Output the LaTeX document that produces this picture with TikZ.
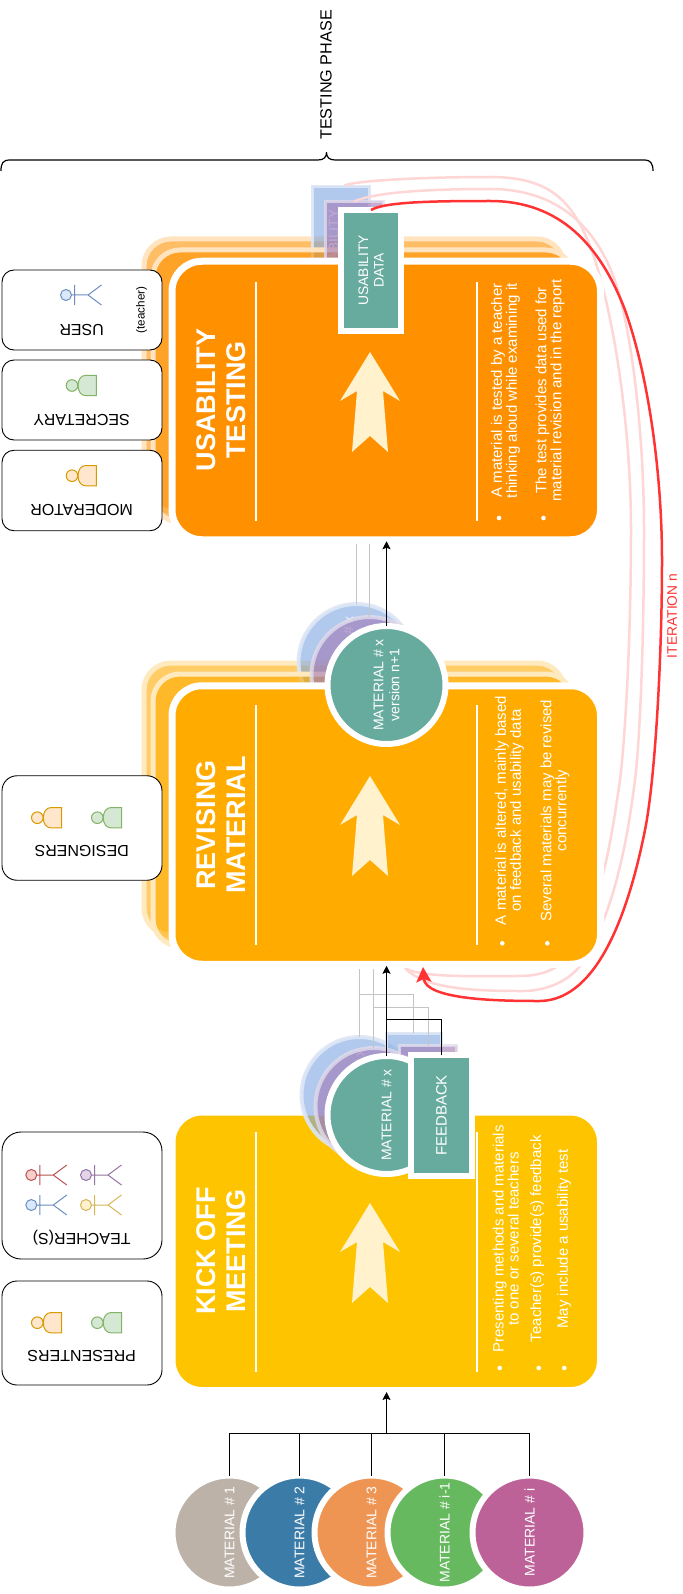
\documentclass[tikz,border=0pt]{standalone}
\usepackage{fontspec}
\setmainfont{Liberation Sans}
\usetikzlibrary{arrows.meta,calc}
\definecolor{cKick}{HTML}{FFC400}
\definecolor{cRev}{HTML}{FFAB00}
\definecolor{cUse}{HTML}{FF9100}
\definecolor{cTeal}{HTML}{67AB9F}
\definecolor{cCream}{HTML}{FFF2CC}
\definecolor{cRed}{HTML}{FF3333}
\definecolor{cPink}{HTML}{FFD6D6}
\definecolor{cGBlue}{HTML}{7EA6E0}
\definecolor{cGPurp}{HTML}{A178B7}
\definecolor{cGBlueL}{HTML}{DDE6F6}
\definecolor{cGPurpL}{HTML}{E1DCEB}
\definecolor{cGray}{HTML}{C4C4C4}
\definecolor{oF}{HTML}{FFE6CC}\definecolor{oD}{HTML}{D79B00}
\definecolor{gF}{HTML}{D5E8D4}\definecolor{gD}{HTML}{82B366}
\definecolor{bF}{HTML}{DAE8FC}\definecolor{bD}{HTML}{6C8EBF}
\definecolor{rF}{HTML}{F8CECC}\definecolor{rD}{HTML}{B85450}
\definecolor{pF}{HTML}{E1D5E7}\definecolor{pD}{HTML}{9673A6}
\definecolor{yF}{HTML}{FFF2CC}\definecolor{yD}{HTML}{D6B656}
\definecolor{m1}{HTML}{BDB2A8}\definecolor{m2}{HTML}{3A7BA8}
\definecolor{m3}{HTML}{EF9554}\definecolor{m4}{HTML}{66B95F}
\definecolor{m5}{HTML}{BD6299}
\tikzset{
  mainbox/.style={rectangle,rounded corners=30pt,draw=white,line width=7pt,fill=#1,
    minimum width=428.5pt,minimum height=278.5pt,inner sep=0pt,outer sep=0pt},
  stackbox/.style={rectangle,rounded corners=27pt,fill=#1,fill opacity=.6,draw=#1!25!white,
    line width=5pt,minimum width=420pt,minimum height=272pt,inner sep=0pt,outer sep=0pt},
  sidebox/.style={rectangle,draw=black,fill=white,line width=.9pt,inner sep=0pt,outer sep=0pt,minimum width=160pt},
  sidetext/.style={rotate=180,font=\fontsize{16}{16}\selectfont,inner sep=0pt},
  tealcirc/.style={circle,fill=cTeal,draw=white,line width=6pt,minimum size=118pt,inner sep=0pt,outer sep=0pt,
    rotate=90,align=center,text=white,font=\fontsize{14}{16}\selectfont},
  tealrect/.style={rectangle,fill=cTeal,draw=white,line width=6pt,inner sep=0pt,outer sep=0pt,
    rotate=90,align=center,text=white,font=\fontsize{13.8}{15.5}\selectfont},
  ghostblue/.style={fill=cGBlue,fill opacity=.6,draw=cGBlueL,draw opacity=.9,text=white,text opacity=.8},
  ghostpurp/.style={fill=cGPurp,fill opacity=.6,draw=cGPurpL,draw opacity=.8,text=white,text opacity=.55},
  gcirc/.style={circle,line width=4pt,minimum size=116pt,inner sep=0pt,outer sep=0pt,
    rotate=90,align=center,font=\fontsize{14}{16}\selectfont},
  grect/.style={rectangle,line width=3pt,inner sep=0pt,outer sep=0pt,
    rotate=90,align=center,font=\fontsize{13.8}{15.5}\selectfont},
  matcirc/.style={circle,fill=#1,draw=white,line width=6pt,minimum size=114pt,inner sep=0pt,outer sep=0pt,
    rotate=90,text=white,font=\fontsize{14}{16}\selectfont},
  titletext/.style={rotate=90,align=center,text=white,inner sep=0pt,font=\fontsize{27}{30}\selectfont\bfseries},
  itemtext/.style={rotate=90,align=center,text=white,inner sep=0pt,font=\fontsize{15}{15}\selectfont},
  dotb/.style={circle,fill=white,minimum size=4.6pt,inner sep=0pt},
  rule/.style={draw=white,line width=1.6pt},
  flow/.style={draw=black,line width=1.1pt},
  flowtip/.style={flow,-{Stealth[length=8pt,width=8pt,inset=1.5pt]},shorten >=1.5pt},
  ghostline/.style={draw=cGray,line width=1pt},
  pinkline/.style={draw=cPink,line width=2.5pt},
  redline/.style={draw=cRed,line width=2.5pt,-{Stealth[length=15pt,width=15pt,inset=3pt]}},
  cream/.style={fill=cCream},
}
\newcommand{\blobman}[4]{%
 \begin{scope}[shift={(#1,#2)},line width=1pt]
  \draw[draw=#4,fill=#3] (24.4,-10.2) -- (14,-10.2) .. controls (9,-10.2) and (6,-6) .. (6,0) .. controls (6,6) and (9,10.2) .. (14,10.2) -- (24.4,10.2) -- cycle;
  \draw[draw=#4,fill=#3] (0,0) circle[radius=5.8];
 \end{scope}}
\newcommand{\stickman}[4]{%
 \begin{scope}[shift={(#1,#2)},line width=1pt]
  \draw[draw=#4] (5.5,0) -- (22,0) -- (35.5,-10) (22,0) -- (35.5,10) (8.5,-10) -- (8.5,10);
  \draw[draw=#4,fill=#3] (0,0) circle[radius=5.5];
 \end{scope}}
\newcommand{\bigarrow}[1]{%
 \fill[cream,shift={(370,#1)}] (0,0) -- (30,49) -- (13,39) -- (18,100) -- (0,84) -- (-18,100) -- (-13,39) -- (-30,49) -- cycle;}
\begin{document}
\begin{tikzpicture}[x=1pt,y=-1pt]
\useasboundingbox (0,0) rectangle (682,1594);
\fill[white] (0,0) rectangle (682,1594);

% brace
\draw[line width=1.2pt,line join=round] (1,171) .. controls (1,163) and (3,160) .. (10,160) -- (318,160) .. controls (324,160) and (326.5,157) .. (326.5,152.5) .. controls (326.5,157) and (329,160) .. (335,160) -- (645,160) .. controls (650,160) and (653,163) .. (653,171);
\node[rotate=90,inner sep=0pt,font=\fontsize{16.2}{16}\selectfont] (phase) at (326,75) {TESTING PHASE};

% usability layers
\node[stackbox=cUse] (su1) at (354,375) {};
\node[grect,ghostblue,minimum width=117pt,minimum height=57pt] (gu1) at (341.2,245) {USABILITY\\DATA};
\node[stackbox=cUse] (su2) at (363,386) {};
\node[grect,ghostpurp,minimum width=117pt,minimum height=58pt] (gu2) at (354.2,260) {USABILITY\\DATA};

% revising layers
\node[stackbox=cRev] (sr1) at (354,799) {};
\node[gcirc,ghostblue] (gr1) at (356.5,662) {MATERIAL \# x\\version n+1};
\node[stackbox=cRev] (sr2) at (363,810) {};
\node[gcirc,ghostpurp] (gr2) at (369.5,675) {MATERIAL \# x\\version n+1};

% faded iteration lines
\coordinate (pinkend) at (405,968);
\draw[pinkline,shorten <=3.5pt] (gu1.east) .. controls (360,180) and (430,177) .. (490,177) .. controls (550,177) and (575,200) .. (595,260) .. controls (620,340) and (631,450) .. (631,530) .. controls (631,640) and (625,740) .. (620,780) .. controls (612,835) and (600,920) .. (565,960) .. controls (550,975) and (530,976) .. (517,976) .. controls (480,976) and (420,978) .. (pinkend);
\draw[pinkline] (gu2.east) .. controls (375,192) and (430,189) .. (490,189) .. controls (560,189) and (600,230) .. (618,290) .. controls (635,350) and (644,450) .. (644,530) .. controls (644,640) and (640,740) .. (635,780) .. controls (628,835) and (615,915) .. (580,966) .. controls (565,985) and (540,991) .. (523,991) .. controls (480,991) and (425,990) .. (pinkend);

% main boxes
\node[mainbox=cUse] (use) at (386.25,400.5) {};
\node[mainbox=cRev] (rev) at (386.25,825) {};
\node[mainbox=cKick] (kick) at (386.25,1251.25) {};

% usability content
\draw[rule] (256,282) -- (256,521);
\draw[rule] (477,282) -- (477,521);
\node[titletext] (tu) at (221,400) {USABILITY\\TESTING};
\bigarrow{352}
\node[itemtext] (iu1) at (505.5,390.5) {A material is tested by a teacher\\thinking aloud while examining it};
\node[itemtext] (iu2) at (550,390.5) {The test provides data used for\\material revision and in the report};
\node[dotb] (du1) at (499,518) {};
\node[dotb] (du2) at (543.5,518) {};
\node[tealrect,minimum width=120.5pt,minimum height=60pt] (ud) at (371,270.25) {USABILITY\\DATA};

% revising content
\draw[rule] (256,705) -- (256,945);
\draw[rule] (477,705) -- (477,945);
\node[titletext] (tr) at (221,825) {REVISING\\MATERIAL};
\bigarrow{776}
\node[itemtext] (ir1) at (509.5,810.5) {A material is altered, mainly based\\on feedback and usability data};
\node[itemtext] (ir2) at (555,810.5) {Several materials may be revised\\concurrently};
\node[dotb] (dr1) at (502.3,943.3) {};
\node[dotb] (dr2) at (547.3,943.3) {};
\node[tealcirc] (mr) at (386.5,685) {MATERIAL \# x\\version n+1};

% kick off content
\draw[rule] (256,1132) -- (256,1372);
\draw[rule] (477,1132) -- (477,1372);
\node[titletext] (tk) at (221,1251) {KICK OFF\\MEETING};
\bigarrow{1203}
\node[itemtext] (ik1) at (505.7,1239) {Presenting methods and materials\\to one or several teachers};
\node[itemtext] (ik2) at (537.3,1238.7) {Teacher(s) provide(s) feedback};
\node[itemtext] (ik3) at (564,1239) {May include a usability test};
\node[dotb] (dk1) at (499.7,1368) {};
\node[dotb] (dk2) at (538.7,1368) {};
\node[dotb] (dk3) at (564.3,1368) {};

% kick off material stack
\node[gcirc,ghostblue] (gk1) at (359.5,1095) {MATERIAL \# x};
\node[grect,ghostblue,minimum width=117pt,minimum height=55pt] (gf1) at (413.5,1091.5) {FEEDBACK};
\node[gcirc,ghostpurp] (gk2) at (373.5,1106) {MATERIAL \# x};
\node[grect,ghostpurp,minimum width=117pt,minimum height=57pt] (gf2) at (428,1104) {FEEDBACK};
\node[tealcirc] (mk) at (386.5,1115) {MATERIAL \# x};
\node[tealrect,minimum width=121pt,minimum height=61pt,font=\fontsize{15}{16}\selectfont] (fb) at (441.5,1115.5) {FEEDBACK};

% connectors
\coordinate (grayR) at (0,544);
\coordinate (grayK) at (0,969);
\coordinate (busK1) at (0,994.5);
\coordinate (busK2) at (0,1007.5);
\coordinate (busK3) at (0,1019.5);
\draw[ghostline] (gr1.east) -- (gr1.east |- grayR);
\draw[ghostline] (gr2.east) -- (gr2.east |- grayR);
\draw[flowtip] (mr.east) -- (use.south -| mr.east);
\draw[ghostline] (gk1.east) -- (gk1.east |- grayK);
\draw[ghostline] (gk2.east) -- (gk2.east |- grayK);
\draw[ghostline] (gf1.east) |- (gk1.east |- busK1);
\draw[ghostline] (gf2.east) |- (gk2.east |- busK2);
\draw[flowtip] (mk.east) -- (rev.south -| mk.east);
\draw[flow] (fb.east) |- (mk.east |- busK3);

% iteration line
\coordinate (redtip) at (423,967);
\draw[redline] (ud.east) .. controls (385,202) and (430,201) .. (490,201) .. controls (560,201) and (600,245) .. (625,310) .. controls (650,380) and (662,480) .. (662,560) .. controls (662,660) and (655,780) .. (645,830) .. controls (630,905) and (600,1000) .. (540,1001) .. controls (500,1001) and (425,1000) .. (redtip);
\node[rotate=90,inner sep=0pt,text=cRed,font=\fontsize{13.8}{14}\selectfont] (iter) at (672,616) {ITERATION n};

% materials
\node[matcirc=m1] (c1) at (229.5,1532.5) {MATERIAL \# 1};
\node[matcirc=m2] (c2) at (299.5,1532.5) {MATERIAL \# 2};
\node[matcirc=m3] (c3) at (371.5,1532.5) {MATERIAL \# 3};
\node[matcirc=m4] (c4) at (444.5,1532.5) {MATERIAL \# i-1};
\node[matcirc=m5] (c5) at (529.5,1532.5) {MATERIAL \# i};
\coordinate (bus) at (386.5,1433.5);
\draw[flow] (c1.east) |- (bus);
\draw[flow] (c2.east) -- (c2.east |- bus);
\draw[flow] (c3.east) -- (c3.east |- bus);
\draw[flow] (c4.east) -- (c4.east |- bus);
\draw[flow] (c5.east) |- (bus);
\draw[flowtip] (bus) -- (kick.south -| bus);

% side boxes
\node[sidebox,minimum height=80pt,rounded corners=12pt] (bu) at (82,310) {};
\node[sidebox,minimum height=80pt,rounded corners=12pt] (bs) at (82,400) {};
\node[sidebox,minimum height=80.5pt,rounded corners=12pt] (bm) at (82,490.5) {};
\node[sidebox,minimum height=104.5pt,rounded corners=15pt] (bd) at (82,828) {};
\node[sidebox,minimum height=127pt,rounded corners=19pt] (bt) at (82,1195.5) {};
\node[sidebox,minimum height=104pt,rounded corners=15pt] (bp) at (82,1333) {};

\node[sidetext] (lu) at (81.7,330) {USER};
\node[rotate=90,inner sep=0pt,font=\fontsize{11.7}{12}\selectfont] (lt) at (141.7,310) {(teacher)};
\node[sidetext] (ls) at (81.7,420) {SECRETARY};
\node[sidetext] (lm) at (81.7,510) {MODERATOR};
\node[sidetext] (ld) at (81.7,851) {DESIGNERS};
\node[sidetext] (lte) at (81.7,1237.7) {TEACHER(S)};
\node[sidetext] (lp) at (81.7,1356) {PRESENTERS};

\stickman{66}{295}{bF}{bD}
\blobman{72}{385.5}{gF}{gD}
\blobman{72}{475.7}{oF}{oD}
\blobman{37.3}{817.7}{oF}{oD}
\blobman{97.3}{817.7}{gF}{gD}
\stickman{31.3}{1175}{rF}{rD}
\stickman{86}{1175}{pF}{pD}
\stickman{31.3}{1205}{bF}{bD}
\stickman{86}{1205}{yF}{yD}
\blobman{37.3}{1322.7}{oF}{oD}
\blobman{97.3}{1322.7}{gF}{gD}
\end{tikzpicture}
\end{document}
